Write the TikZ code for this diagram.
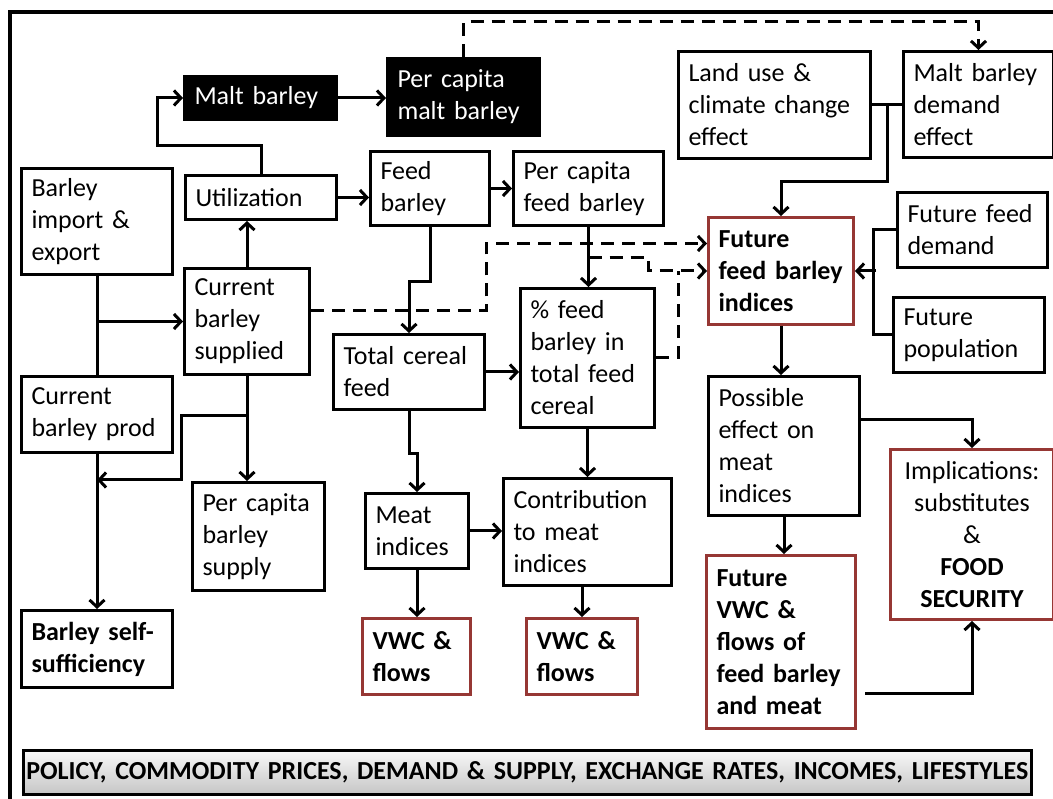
\documentclass[tikz,border=0pt]{standalone}
\usepackage{fontspec}
\setmainfont{Carlito}
\usetikzlibrary{arrows.meta,calc,shadows}
\definecolor{boxred}{RGB}{150,55,52}
\newcommand{\boxfont}{\fontsize{26}{32}\selectfont}
\tikzset{
  box/.style={draw, line width=3pt, anchor=north west, align=left, inner xsep=10pt, inner ysep=2pt, font=\boxfont},
  keybox/.style={box, draw=boxred, font=\boxfont\bfseries},
  darkbox/.style={box, fill=black, text=white},
  link/.style={line width=3pt},
  arr/.style={link, -{Straight Barb[length=7pt,width=15pt]}},
  darr/.style={arr, dash pattern=on 13pt off 8pt},
}
\begin{document}
\begin{tikzpicture}[x=1pt, y=-1pt]
\useasboundingbox (0,0) rectangle (1053,799);
\draw[line width=4pt] (10,805) -- (10,12) -- (1060,12);

% top row
\node[darkbox, text width=132pt, minimum height=43pt] (malt) at (183,75) {Malt barley};
\node[darkbox, text width=132pt, minimum height=77pt] (pcmalt) at (386,57) {Per capita\\malt barley};
\node[box, text width=172pt, minimum height=107pt] (land) at (677,50) {Land use \&\\climate change\\effect};
\node[box, text width=130pt, minimum height=106pt] (mdem) at (902,50) {Malt barley\\demand\\effect};

% supply side
\node[box, text width=131pt, minimum height=106pt] (imp) at (20,167) {Barley\\import \&\\export};
\node[box, text width=131pt, minimum height=44pt] (util) at (184,174) {Utilization};
\node[box, text width=105pt, minimum height=106pt] (cbs) at (183,267) {Current\\barley\\supplied};
\node[box, text width=131pt, minimum height=76pt] (cbp) at (20,375) {Current\\barley prod};
\node[box, text width=112pt, minimum height=108pt] (pcbs) at (191,481) {Per capita\\barley\\supply};
\node[keybox, draw=black, text width=131pt, minimum height=77pt] (bss) at (20,609) {Barley self-\\sufficiency};

% feed side
\node[box, text width=99pt, minimum height=74pt] (feed) at (369,150) {Feed\\barley};
\node[box, text width=130pt, minimum height=74pt] (pcfeed) at (512,150) {Per capita\\feed barley};
\node[box, text width=131pt, minimum height=75pt] (tcf) at (332,333) {Total cereal\\feed};
\node[box, text width=114pt, minimum height=139pt] (pct) at (519,287) {\% feed\\barley in\\total feed\\cereal};
\node[box, text width=83pt, minimum height=75pt] (meat) at (364,492) {Meat\\indices};
\node[box, text width=148pt, minimum height=107pt] (contr) at (502,477) {Contribution\\to meat\\indices};
\node[keybox, text width=88pt, minimum height=76pt] (vwc1) at (361,617) {VWC \&\\flows};
\node[keybox, text width=91pt, minimum height=76pt] (vwc2) at (525,617) {VWC \&\\flows};

% future
\node[keybox, text width=125pt, minimum height=107pt] (ffbi) at (707,216) {Future\\feed barley\\indices};
\node[box, text width=130pt, minimum height=75pt] (fdem) at (896,191) {Future feed\\demand};
\node[box, text width=131pt, minimum height=75pt] (fpop) at (892,296) {Future\\population};
\node[box, text width=131pt, minimum height=139pt] (poss) at (707,375) {Possible\\effect on\\meat\\indices};
\node[box, draw=boxred, align=center, text width=143pt, minimum height=170pt] (impl) at (889,448) {Implications:\\substitutes\\\&\\\textbf{FOOD}\\\textbf{SECURITY}};
\node[keybox, text width=129pt, minimum height=173pt] (fvwc) at (705,554) {Future\\VWC \&\\flows of\\feed barley\\and meat};

\node[box, line width=2.5pt, align=center, text width=1008pt, minimum height=44pt, inner sep=0pt, top color=gray!5, bottom color=gray!45, drop shadow={shadow xshift=2pt, shadow yshift=-2pt, opacity=.5}, font=\boxfont\bfseries] (policy) at (22,749) {POLICY, COMMODITY PRICES, DEMAND \& SUPPLY, EXCHANGE RATES, INCOMES, LIFESTYLES};

% connectors
\draw[arr] (util.north) |- (157,146) |- (malt.west);
\draw[arr] (malt.east) -- (malt.east -| pcmalt.west);
\draw[darr] (pcmalt.north) -- ++(0,-35) -| (mdem.north);
\draw[link] (land.east) -- (land.east -| mdem.west);
\draw[arr] ($(land.east)!0.5!(mdem.west)$) -- ++(0,77) -| (ffbi.north);
\draw[link] (fdem.west) -- ++(-23,0) |- (fpop.west);
\draw[arr] ([xshift=21pt]ffbi.east) -- (ffbi.east);
\draw[arr] (ffbi.south) -- (ffbi.south |- poss.north);
\draw[arr] ([yshift=26.5pt]poss.east) -| (impl.north);
\draw[arr] (poss.south) -- (poss.south |- fvwc.north);
\draw[arr] ([xshift=8pt,yshift=-51.5pt]fvwc.east) -| (impl.south);

\draw[link] (imp.south) -- (cbp.north);
\draw[arr] (imp.south |- cbs.west) -- (cbs.west);
\draw[arr] (cbs.north) -- (cbs.north |- util.south);
\draw[arr] (util.east) -- (util.east -| feed.west);
\draw[arr] (feed.east) -- (pcfeed.west);
\draw[arr] (cbs.south) -- (cbs.south |- pcbs.north);
\draw[arr] ([yshift=-40pt]cbs.south) -- ++(-65.5,0) -- ++(0,64) -- ++(-84.5,0);
\draw[arr] (cbp.south) -- (bss.north);

\draw[arr] (feed.south) -- ++(0,55) -| (tcf.north);
\draw[arr] (pcfeed.south) -- (pcfeed.south |- pct.north);
\draw[arr] (tcf.east) -- (tcf.east -| pct.west);
\draw[arr] (tcf.south) -- ++(0,43) -| (meat.north);
\draw[arr] (pct.south) -- (pct.south |- contr.north);
\draw[arr] (meat.east) -- (meat.east -| contr.west);
\draw[arr] (meat.south) -- (meat.south |- vwc1.north);
\draw[arr] (contr.south -| vwc2.north) -- (vwc2.north);

% dashed links into future indices
\draw[darr] ([yshift=11pt]cbs.east) -| ([xshift=-221pt,yshift=27.5pt]ffbi.west) -- ([yshift=27.5pt]ffbi.west);
\draw[darr] ([yshift=-31pt]pcfeed.south) -- ++(60,0) |- (ffbi.west);
\draw[link, dash pattern=on 13pt off 8pt] (pct.east) -| ([xshift=-29pt]ffbi.west);
\end{tikzpicture}
\end{document}
